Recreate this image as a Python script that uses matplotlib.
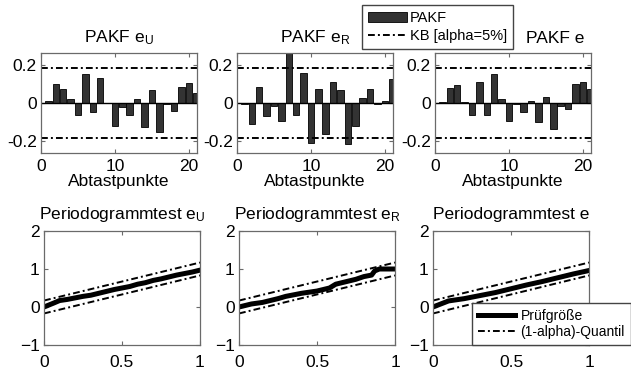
import matplotlib
matplotlib.use("Agg")
import matplotlib.pyplot as plt
import numpy as np

plt.rcParams['font.family'] = ['Liberation Sans', 'DejaVu Sans']
plt.rcParams['mathtext.default'] = 'regular'

# ---------------- data ----------------
lags = list(range(1, 22))
pakf_eU = [0.01, 0.10, 0.075, 0.02, -0.06, 0.15, -0.047, 0.13, 0.0, -0.117, -0.02,
           -0.06, 0.022, -0.125, 0.07, -0.15, -0.005, -0.043, 0.083, 0.104, 0.052]
pakf_eR = [-0.005, -0.108, 0.082, -0.07, -0.017, -0.095, 0.28, -0.06, 0.155, -0.21, 0.073,
           -0.16, 0.107, 0.068, -0.215, -0.12, 0.025, 0.075, -0.005, 0.012, 0.125]
pakf_e = [0.003, 0.08, 0.095, 0.005, -0.06, 0.11, -0.06, 0.15, 0.02, -0.095, -0.003,
          -0.045, 0.013, -0.1, 0.033, -0.135, -0.018, -0.03, 0.1, 0.108, 0.072]
kb_limit = 0.18

pg_U_x = [0, 0.03, 0.06, 0.1, 0.15, 0.2, 0.25, 0.3, 0.35, 0.4, 0.45, 0.5, 0.55, 0.6,
          0.65, 0.7, 0.75, 0.8, 0.85, 0.9, 0.95, 1.0]
pg_U_y = [0.0, 0.05, 0.1, 0.17, 0.2, 0.24, 0.28, 0.31, 0.36, 0.41, 0.46, 0.5, 0.54, 0.6,
          0.64, 0.7, 0.74, 0.79, 0.84, 0.88, 0.92, 0.97]
pg_R_x = [0, 0.08, 0.15, 0.2, 0.25, 0.3, 0.35, 0.4, 0.45, 0.5, 0.55, 0.58, 0.62, 0.68,
          0.75, 0.8, 0.85, 0.87, 0.9, 0.95, 1.0]
pg_R_y = [0.0, 0.08, 0.12, 0.17, 0.22, 0.28, 0.32, 0.36, 0.39, 0.42, 0.47, 0.5, 0.6, 0.66,
          0.73, 0.8, 0.84, 0.95, 1.0, 1.0, 1.0]
pg_e_x = [0, 0.05, 0.1, 0.15, 0.2, 0.3, 0.4, 0.5, 0.6, 0.7, 0.8, 0.9, 1.0]
pg_e_y = [0.0, 0.08, 0.16, 0.19, 0.22, 0.3, 0.38, 0.48, 0.58, 0.67, 0.77, 0.87, 0.96]
quant_x = [0, 1]
quant_upper = [0.17, 1.17]
quant_lower = [-0.17, 0.83]

top_titles = ['PAKF e$_U$', 'PAKF e$_R$', 'PAKF e']
bottom_titles = ['Periodogrammtest e$_U$', 'Periodogrammtest e$_R$', 'Periodogrammtest e']

# ---------------- style ----------------
W, H = 631, 371
fig = plt.figure(figsize=(W / 100, H / 100), dpi=100)
spine_col = '#6a6a6a'
bar_col = '#333333'
dashdot = (0, (3.5, 1.6, 1.0, 1.6))
fs = 12.5


def style(ax):
    for s in ax.spines.values():
        s.set_color(spine_col)
        s.set_linewidth(0.9)
    ax.tick_params(direction='in', top=True, right=True, length=3,
                   color=spine_col, labelsize=fs, pad=3)


top_left = [41, 237, 435]
bot_left = [44, 239, 433]
pakf_all = [pakf_eU, pakf_eR, pakf_e]
pg_all = [(pg_U_x, pg_U_y), (pg_R_x, pg_R_y), (pg_e_x, pg_e_y)]

top_axes = []
for i in range(3):
    ax = fig.add_axes([top_left[i] / W, 1 - 153 / H, 156 / W, 100 / H])
    bars = ax.bar(lags, pakf_all[i], width=0.88, color=bar_col, edgecolor='black',
                  linewidth=0.6)
    ax.axhline(0, color='black', lw=1.0)
    kbl = ax.axhline(kb_limit, color='black', lw=1.4, ls=dashdot)
    ax.axhline(-kb_limit, color='black', lw=1.4, ls=dashdot)
    ax.set_xlim(0, 21.1)
    ax.set_ylim(-0.26, 0.26)
    ax.set_xticks([0, 10, 20])
    ax.set_yticks([-0.2, 0, 0.2])
    ax.set_yticklabels(['-0.2', '0', '0.2'])
    ax.set_xlabel('Abtastpunkte', fontsize=fs, labelpad=0)
    style(ax)
    ax.tick_params(axis='x', pad=4)
    if i < 2:
        ax.set_title(top_titles[i], fontsize=fs, pad=8)
    else:
        ax.set_title(top_titles[i], fontsize=fs, pad=7, x=0.77)
    top_axes.append((bars, kbl))

fig.legend([top_axes[0][0], top_axes[0][1]], ['PAKF', 'KB [alpha=5%]'],
           loc='upper left', bbox_to_anchor=(362 / W, 1 - 5 / H), fontsize=10.5,
           frameon=True, fancybox=False, edgecolor='#444444', framealpha=1,
           handlelength=2.7, handletextpad=0.2, borderpad=0.4, labelspacing=0.3,
           borderaxespad=0)

handles = None
for i in range(3):
    ax = fig.add_axes([bot_left[i] / W, 1 - 345 / H, 156 / W, 114 / H])
    px, py = pg_all[i]
    l1, = ax.plot(px, py, color='black', lw=3.6)
    l2, = ax.plot(quant_x, quant_upper, color='black', lw=1.4, ls=dashdot)
    ax.plot(quant_x, quant_lower, color='black', lw=1.4, ls=dashdot)
    ax.set_xlim(0, 1)
    ax.set_ylim(-1, 2)
    ax.set_xticks([0, 0.5, 1])
    ax.set_xticklabels(['0', '0.5', '1'])
    ax.set_yticks([-1, 0, 1, 2])
    style(ax)
    ax.tick_params(axis='x', pad=7)
    ax.set_title(bottom_titles[i], fontsize=fs, pad=9)
    handles = (l1, l2)

fig.legend(handles, ['Prüfgröße', '(1-alpha)-Quantil'],
           loc='upper left', bbox_to_anchor=(472 / W, 1 - 303 / H), fontsize=10,
           frameon=True, fancybox=False, edgecolor='#444444', framealpha=1,
           handlelength=2.7, handletextpad=0.4, borderpad=0.4, labelspacing=0.2,
           borderaxespad=0)

fig.savefig('out.png', dpi=100)
